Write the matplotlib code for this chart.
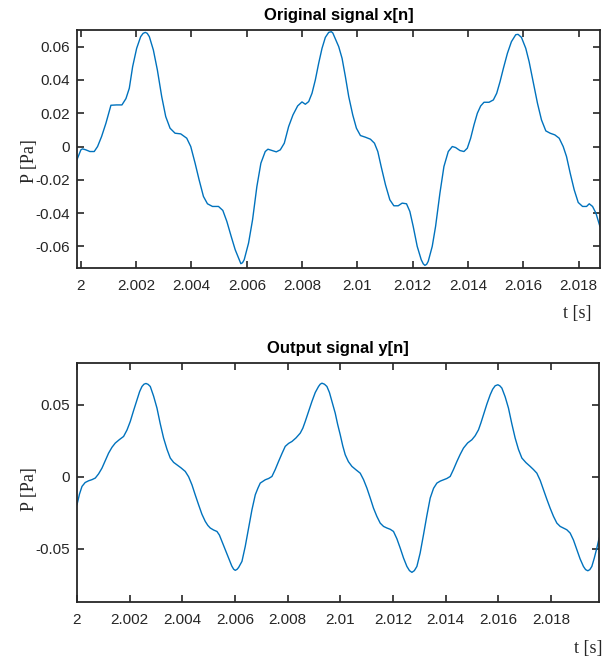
"""
plot.py
Original vs output signal (MATLAB style)
"""

import matplotlib
matplotlib.use('Agg')
import matplotlib.pyplot as plt

# -------------------------------
# DATA
# -------------------------------

t_x = [1.999867, 2.000000, 2.000060, 2.000181, 2.000326, 2.000483, 2.000604, 2.000749,
       2.000906, 2.001087, 2.001292, 2.001485, 2.001630, 2.001751, 2.001872, 2.002017,
       2.002162, 2.002250, 2.002331, 2.002400, 2.002476, 2.002621, 2.002766, 2.002923,
       2.003068, 2.003225, 2.003406, 2.003611, 2.003828, 2.003973, 2.004130, 2.004275,
       2.004432, 2.004577, 2.004758, 2.004976, 2.005133, 2.005278, 2.005435, 2.005580,
       2.005724, 2.005785, 2.005845, 2.005906, 2.006063, 2.006208, 2.006364, 2.006509,
       2.006666, 2.006763, 2.006908, 2.007065, 2.007210, 2.007355, 2.007512, 2.007669,
       2.007838, 2.007995, 2.008116, 2.008237, 2.008357, 2.008477, 2.008598, 2.008719,
       2.008840, 2.008961, 2.009057, 2.009110, 2.009166, 2.009323, 2.009444, 2.009564,
       2.009685, 2.009830, 2.009963, 2.010108, 2.010289, 2.010470, 2.010615, 2.010736,
       2.010857, 2.011014, 2.011171, 2.011316, 2.011473, 2.011617, 2.011774, 2.011895,
       2.012016, 2.012161, 2.012306, 2.012380, 2.012439, 2.012500, 2.012559, 2.012704,
       2.012825, 2.012982, 2.013127, 2.013284, 2.013429, 2.013549, 2.013706, 2.013851,
       2.013972, 2.014093, 2.014214, 2.014335, 2.014456, 2.014576, 2.014758, 2.014914,
       2.015035, 2.015156, 2.015277, 2.015422, 2.015567, 2.015724, 2.015808, 2.015929,
       2.016086, 2.016207, 2.016352, 2.016509, 2.016654, 2.016811, 2.016968, 2.017137,
       2.017294, 2.017439, 2.017559, 2.017692, 2.017837, 2.017982, 2.018139, 2.018284,
       2.018381, 2.018501, 2.018622, 2.018767]
x_vals = [-0.0076, -0.0020, -0.0014, -0.0020, -0.0030, -0.0030, 0.0000, 0.0060,
          0.0140, 0.0248, 0.0250, 0.0250, 0.0288, 0.0350, 0.0480, 0.0590,
          0.0660, 0.0680, 0.0686, 0.0680, 0.0660, 0.0580, 0.0460, 0.0300,
          0.0180, 0.0110, 0.0080, 0.0076, 0.0050, 0.0000, -0.0100, -0.0200,
          -0.0300, -0.0344, -0.0360, -0.0360, -0.0384, -0.0450, -0.0540, -0.0620,
          -0.0680, -0.0704, -0.0698, -0.0680, -0.0580, -0.0440, -0.0240, -0.0100,
          -0.0030, -0.0016, -0.0024, -0.0032, -0.0020, 0.0020, 0.0120, 0.0190,
          0.0244, 0.0268, 0.0254, 0.0270, 0.0320, 0.0400, 0.0500, 0.0590,
          0.0656, 0.0686, 0.0690, 0.0682, 0.0660, 0.0600, 0.0530, 0.0420,
          0.0300, 0.0190, 0.0110, 0.0066, 0.0056, 0.0044, 0.0020, -0.0030,
          -0.0120, -0.0230, -0.0320, -0.0356, -0.0356, -0.0340, -0.0344, -0.0390,
          -0.0480, -0.0600, -0.0680, -0.0705, -0.0714, -0.0708, -0.0690, -0.0600,
          -0.0480, -0.0280, -0.0120, -0.0030, 0.0000, -0.0006, -0.0024, -0.0030,
          -0.0010, 0.0050, 0.0130, 0.0200, 0.0244, 0.0266, 0.0266, 0.0280,
          0.0320, 0.0390, 0.0470, 0.0560, 0.0630, 0.0672, 0.0674, 0.0656,
          0.0590, 0.0510, 0.0390, 0.0260, 0.0160, 0.0094, 0.0080, 0.0070,
          0.0050, 0.0000, -0.0060, -0.0160, -0.0260, -0.0336, -0.0360, -0.0360,
          -0.0344, -0.0360, -0.0400, -0.0480]

t_y = [2.000000, 2.000095, 2.000190, 2.000310, 2.000440, 2.000570, 2.000695, 2.000820,
       2.000949, 2.001075, 2.001200, 2.001330, 2.001454, 2.001610, 2.001770, 2.001900,
       2.002024, 2.002150, 2.002279, 2.002380, 2.002468, 2.002545, 2.002620, 2.002700,
       2.002784, 2.002910, 2.003038, 2.003160, 2.003289, 2.003420, 2.003543, 2.003670,
       2.003798, 2.003950, 2.004113, 2.004240, 2.004367, 2.004490, 2.004618, 2.004745,
       2.004872, 2.004970, 2.005062, 2.005190, 2.005317, 2.005410, 2.005506, 2.005630,
       2.005757, 2.005880, 2.005950, 2.006012, 2.006080, 2.006139, 2.006266, 2.006391,
       2.006517, 2.006646, 2.006773, 2.006873, 2.006961, 2.007151, 2.007280, 2.007405,
       2.007530, 2.007656, 2.007783, 2.007910, 2.008040, 2.008165, 2.008320, 2.008480,
       2.008580, 2.008670, 2.008800, 2.008924, 2.009050, 2.009175, 2.009240, 2.009304,
       2.009400, 2.009494, 2.009590, 2.009684, 2.009809, 2.009900, 2.009999, 2.010095,
       2.010189, 2.010310, 2.010443, 2.010600, 2.010758, 2.010885, 2.011013, 2.011140,
       2.011263, 2.011390, 2.011518, 2.011645, 2.011772, 2.011900, 2.012023, 2.012150,
       2.012277, 2.012405, 2.012532, 2.012630, 2.012722, 2.012815, 2.012911, 2.013035,
       2.013162, 2.013290, 2.013417, 2.013545, 2.013671, 2.013800, 2.013922, 2.014050,
       2.014176, 2.014300, 2.014431, 2.014555, 2.014681, 2.014840, 2.015000, 2.015125,
       2.015251, 2.015345, 2.015441, 2.015570, 2.015695, 2.015790, 2.015885, 2.015987,
       2.016060, 2.016139, 2.016265, 2.016390, 2.016515, 2.016644, 2.016770, 2.016899,
       2.017055, 2.017214, 2.017340, 2.017468, 2.017595, 2.017719, 2.017845, 2.017973,
       2.018100, 2.018228, 2.018355, 2.018478, 2.018605, 2.018733, 2.018860, 2.018987,
       2.019110, 2.019238, 2.019320, 2.019405, 2.019480, 2.019557, 2.019650, 2.019747,
       2.019834]
y_vals = [-0.0194, -0.0120, -0.0067, -0.0040, -0.0028, -0.0020, -0.0009, 0.0020,
          0.0060, 0.0112, 0.0164, 0.0205, 0.0234, 0.0258, 0.0280, 0.0325,
          0.0384, 0.0460, 0.0535, 0.0592, 0.0627, 0.0643, 0.0648, 0.0642,
          0.0627, 0.0560, 0.0477, 0.0370, 0.0269, 0.0190, 0.0130, 0.0100,
          0.0083, 0.0062, 0.0037, 0.0000, -0.0056, -0.0125, -0.0194, -0.0260,
          -0.0310, -0.0338, -0.0356, -0.0370, -0.0380, -0.0405, -0.0449, -0.0505,
          -0.0565, -0.0620, -0.0642, -0.0650, -0.0643, -0.0630, -0.0588, -0.0484,
          -0.0356, -0.0229, -0.0125, -0.0079, -0.0044, -0.0021, -0.0012, 0.0002,
          0.0050, 0.0106, 0.0160, 0.0211, 0.0232, 0.0245, 0.0270, 0.0303,
          0.0338, 0.0384, 0.0455, 0.0523, 0.0585, 0.0627, 0.0643, 0.0650,
          0.0643, 0.0627, 0.0585, 0.0523, 0.0442, 0.0365, 0.0292, 0.0215,
          0.0153, 0.0105, 0.0072, 0.0048, 0.0025, -0.0020, -0.0079, -0.0148,
          -0.0218, -0.0275, -0.0322, -0.0345, -0.0356, -0.0365, -0.0380, -0.0430,
          -0.0495, -0.0565, -0.0623, -0.0652, -0.0664, -0.0652, -0.0623, -0.0530,
          -0.0403, -0.0270, -0.0148, -0.0080, -0.0044, -0.0030, -0.0021, -0.0012,
          0.0002, 0.0050, 0.0106, 0.0155, 0.0199, 0.0235, 0.0257, 0.0285,
          0.0326, 0.0375, 0.0431, 0.0505, 0.0569, 0.0608, 0.0632, 0.0639,
          0.0632, 0.0616, 0.0555, 0.0477, 0.0370, 0.0269, 0.0190, 0.0130,
          0.0098, 0.0072, 0.0050, 0.0025, -0.0025, -0.0090, -0.0155, -0.0218,
          -0.0275, -0.0322, -0.0345, -0.0356, -0.0368, -0.0391, -0.0440, -0.0507,
          -0.0570, -0.0623, -0.0645, -0.0653, -0.0645, -0.0623, -0.0565, -0.0495,
          -0.0426]

x_ticks = [2.000, 2.002, 2.004, 2.006, 2.008, 2.010, 2.012, 2.014, 2.016, 2.018]
x_tick_labels = ['2', '2.002', '2.004', '2.006', '2.008', '2.01', '2.012', '2.014', '2.016', '2.018']

top_y_ticks = [-0.06, -0.04, -0.02, 0.0, 0.02, 0.04, 0.06]
top_y_labels = ['-0.06', '-0.04', '-0.02', '0', '0.02', '0.04', '0.06']
bot_y_ticks = [-0.05, 0.0, 0.05]
bot_y_labels = ['-0.05', '0', '0.05']

# -------------------------------
# STYLE
# -------------------------------

LINE_COLOR = '#0072BD'
AX_COLOR = '#262626'
SANS = ['Liberation Sans', 'DejaVu Sans']
SERIF = ['Liberation Serif', 'DejaVu Serif']

plt.rcParams['axes.unicode_minus'] = False
plt.rcParams['font.family'] = SANS


def style_axes(ax, yticks, ylabels, xlim, ylim):
    ax.set_xlim(*xlim)
    ax.set_ylim(*ylim)
    ax.set_xticks(x_ticks)
    ax.set_xticklabels(x_tick_labels)
    ax.set_yticks(yticks)
    ax.set_yticklabels(ylabels)
    ax.tick_params(direction='in', length=5, width=1.2, colors=AX_COLOR,
                   labelsize=11, top=True, right=True)
    ax.tick_params(axis='x', pad=8)
    ax.tick_params(axis='y', pad=5)
    for sp in ax.spines.values():
        sp.set_color(AX_COLOR)
        sp.set_linewidth(1.3)


fig = plt.figure(figsize=(6.13, 6.6), dpi=100)

# --- gornji graf ---
ax1 = fig.add_axes([0.1256, 0.5939, 0.8532, 0.3606])
ax1.plot(t_x, x_vals, color=LINE_COLOR, lw=1.0)
style_axes(ax1, top_y_ticks, top_y_labels, (1.99986, 2.01877), (-0.073, 0.070))
ax1.set_title('Original signal x[n]', fontsize=12, fontweight='bold', pad=7)
ax1.set_ylabel('P [Pa]', family=SERIF, fontsize=13, color=AX_COLOR)
ax1.yaxis.set_label_coords(-0.075, 0.45)
ax1.set_xlabel('t [s]', family=SERIF, fontsize=13, color=AX_COLOR)
ax1.xaxis.set_label_coords(0.956, -0.155)

# --- donji graf ---
ax2 = fig.add_axes([0.1256, 0.0883, 0.8516, 0.3621])
ax2.plot(t_y, y_vals, color=LINE_COLOR, lw=1.0)
style_axes(ax2, bot_y_ticks, bot_y_labels, (2.0, 2.01983), (-0.0868, 0.0792))
ax2.set_title('Output signal y[n]', fontsize=12, fontweight='bold', pad=7)
ax2.set_ylabel('P [Pa]', family=SERIF, fontsize=13, color=AX_COLOR)
ax2.yaxis.set_label_coords(-0.075, 0.47)
ax2.set_xlabel('t [s]', family=SERIF, fontsize=13, color=AX_COLOR)
ax2.xaxis.set_label_coords(0.979, -0.16)

fig.savefig('out.png', dpi=100)
